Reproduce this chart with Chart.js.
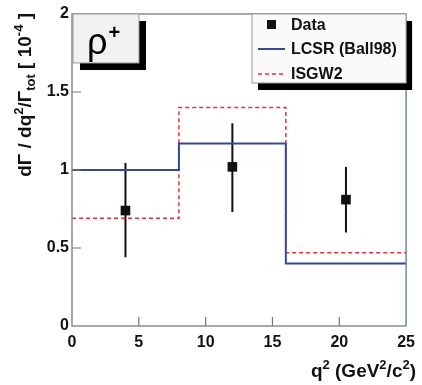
<!DOCTYPE html>
<html>
<head>
<meta charset="utf-8">
<script src="https://cdn.jsdelivr.net/npm/chart.js@4"></script>
<style>
  html, body { margin: 0; padding: 0; background: #fff; }
  #wrap { width: 422px; height: 385px; }
</style>
</head>
<body>
<div id="wrap"><canvas id="rhoChart" width="422" height="385"></canvas></div>
<script>
// q2 bins and model predictions (units of 10^-4)
var binEdges = [0, 8, 16, 25];
var lcsr = [1.00, 1.17, 0.40];
var isgw2 = [0.69, 1.40, 0.47];

// measured points with errors
var dataQ2 = [4.0, 12.0, 20.5];
var dataVal = [0.74, 1.02, 0.81];
var dataLo = [0.44, 0.73, 0.60];
var dataHi = [1.045, 1.30, 1.02];

var legendLabels = ["Data", "LCSR (Ball98)", "ISGW2"];
var boxLabel = "\u03c1";

var BLUE = '#34489a';
var RED = '#e2323c';
var FONT = '"Liberation Sans", Arial, sans-serif';

function stepPoints(vals) {
  var pts = [];
  for (var i = 0; i < vals.length; i++) pts.push({x: binEdges[i], y: vals[i]});
  pts.push({x: binEdges[binEdges.length - 1], y: vals[vals.length - 1]});
  return pts;
}

var errPts = [];
for (var i = 0; i < dataQ2.length; i++) {
  errPts.push({x: dataQ2[i], y: dataLo[i]});
  errPts.push({x: dataQ2[i], y: dataHi[i]});
  errPts.push({x: dataQ2[i], y: null});
}
var markPts = dataQ2.map(function (q, i) { return {x: q, y: dataVal[i]}; });

// frame, inward ticks, label boxes and axis titles
var decor = {
  id: 'decor',
  afterDatasetsDraw: function (chart) {
    var ctx = chart.ctx, a = chart.chartArea;
    var xs = chart.scales.x, ys = chart.scales.y;
    ctx.save();
    // frame
    ctx.lineWidth = 1.5;
    ctx.strokeStyle = '#8a8a8a';
    ctx.beginPath();
    ctx.moveTo(a.right, a.top); ctx.lineTo(a.left, a.top);
    ctx.lineTo(a.left, a.bottom); ctx.lineTo(a.right, a.bottom);
    ctx.stroke();
    ctx.strokeStyle = '#6f86ad';
    ctx.beginPath();
    ctx.moveTo(a.right, a.top); ctx.lineTo(a.right, a.bottom);
    ctx.stroke();
    // inward ticks
    ctx.strokeStyle = '#777';
    ctx.lineWidth = 1.2;
    ctx.beginPath();
    xs.ticks.forEach(function (t) {
      if (t.value <= xs.min || t.value >= xs.max) return;
      var px = xs.getPixelForValue(t.value);
      ctx.moveTo(px, a.bottom); ctx.lineTo(px, a.bottom - 9);
    });
    ys.ticks.forEach(function (t) {
      if (t.value <= ys.min || t.value >= ys.max) return;
      var py = ys.getPixelForValue(t.value);
      ctx.moveTo(a.left, py); ctx.lineTo(a.left + 9, py);
    });
    ctx.stroke();

    // rho+ box
    var bx = a.left + 1, by = a.top, bw = 66, bh = 49;
    ctx.fillStyle = '#000';
    ctx.fillRect(bx + 7, by + 7, bw, bh);
    ctx.fillStyle = '#f1f1f1';
    ctx.fillRect(bx, by, bw, bh);
    ctx.strokeStyle = '#999';
    ctx.lineWidth = 1;
    ctx.strokeRect(bx, by, bw, bh);
    ctx.fillStyle = '#000';
    ctx.textBaseline = 'alphabetic';
    ctx.textAlign = 'left';
    ctx.font = '36px ' + FONT;
    ctx.fillText(boxLabel, bx + 14, by + 40);
    var rw = ctx.measureText(boxLabel).width;
    ctx.font = 'bold 20px ' + FONT;
    ctx.fillText('+', bx + 14 + rw + 1, by + 25);

    // legend box
    var lx = 252, ly = a.top, lw = a.right - lx, lh = 69;
    ctx.fillStyle = '#000';
    ctx.fillRect(lx + 6, ly + 7, lw, lh);
    ctx.fillStyle = '#fafafa';
    ctx.fillRect(lx, ly, lw, lh);
    ctx.strokeStyle = '#999';
    ctx.strokeRect(lx, ly, lw, lh);
    var rows = [ly + 11, ly + 35, ly + 60];
    ctx.fillStyle = '#111';
    ctx.fillRect(267, rows[0] - 5, 9, 9);
    ctx.lineWidth = 2;
    ctx.strokeStyle = BLUE;
    ctx.beginPath(); ctx.moveTo(258, rows[1]); ctx.lineTo(285, rows[1]); ctx.stroke();
    ctx.lineWidth = 1.5;
    ctx.strokeStyle = RED;
    ctx.setLineDash([4, 3]);
    ctx.beginPath(); ctx.moveTo(258, rows[2]); ctx.lineTo(285, rows[2]); ctx.stroke();
    ctx.setLineDash([]);
    ctx.fillStyle = '#111';
    ctx.font = 'bold 16px ' + FONT;
    ctx.textBaseline = 'middle';
    legendLabels.forEach(function (s, k) { ctx.fillText(s, 291, rows[k] + 1); });

    // x title: q^2 (GeV^2/c^2), right aligned
    var parts = [['q', 0], ['2', 1], [' (GeV', 0], ['2', 1], ['/c', 0], ['2', 1], [')', 0]];
    drawRich(ctx, parts, 19, function (w) { return [416 - w, 377]; });

    // y title rotated
    var yparts = [['d\u0393 / dq', 0], ['2', 1], ['/\u0393', 0], ['tot', -1], [' [ 10', 0], ['-4', 1], [' ]', 0]];
    ctx.save();
    ctx.translate(31, 0);
    ctx.rotate(-Math.PI / 2);
    drawRich(ctx, yparts, 19, function (w) { return [-13 - w, 0]; });
    ctx.restore();
    ctx.restore();
  }
};

function drawRich(ctx, parts, size, place) {
  var small = Math.round(size * 0.66);
  var widths = parts.map(function (p) {
    ctx.font = 'bold ' + (p[1] === 0 ? size : small) + 'px ' + FONT;
    return ctx.measureText(p[0]).width;
  });
  var total = widths.reduce(function (s, w) { return s + w; }, 0);
  var pos = place(total);
  var x = pos[0], y = pos[1];
  ctx.fillStyle = '#111';
  ctx.textAlign = 'left';
  ctx.textBaseline = 'alphabetic';
  parts.forEach(function (p, k) {
    ctx.font = 'bold ' + (p[1] === 0 ? size : small) + 'px ' + FONT;
    var dy = p[1] === 1 ? -size * 0.42 : (p[1] === -1 ? size * 0.22 : 0);
    ctx.fillText(p[0], x, y + dy);
    x += widths[k];
  });
}

var ctxR = document.getElementById("rhoChart").getContext('2d');
var rhoChart = new Chart(ctxR, {
  type: 'line',
  data: {
    datasets: [
      {
        label: legendLabels[1],
        data: stepPoints(lcsr),
        stepped: 'before',
        borderColor: BLUE,
        borderWidth: 2,
        pointRadius: 0,
        fill: false
      },
      {
        label: legendLabels[2],
        data: stepPoints(isgw2),
        stepped: 'before',
        borderColor: RED,
        borderWidth: 1.5,
        borderDash: [4, 3],
        pointRadius: 0,
        fill: false
      },
      {
        label: 'errors',
        data: errPts,
        borderColor: '#111',
        borderWidth: 2,
        pointRadius: 0,
        spanGaps: false
      },
      {
        label: legendLabels[0],
        data: markPts,
        showLine: false,
        pointStyle: 'rect',
        pointRadius: 6.8,
        pointBackgroundColor: '#111',
        pointBorderColor: '#111',
        pointBorderWidth: 0
      }
    ]
  },
  options: {
    responsive: false,
    animation: false,
    layout: { padding: { left: 0, top: 14, right: 12, bottom: 0 } },
    plugins: { legend: { display: false }, tooltip: { enabled: false } },
    scales: {
      x: {
        type: 'linear',
        min: 0, max: 25,
        grid: { display: false, drawTicks: false },
        border: { display: false },
        ticks: { stepSize: 5, padding: 7, color: '#111', font: { family: FONT, size: 16, weight: 'bold' } },
        afterFit: function (s) { s.height = 59; }
      },
      y: {
        min: 0, max: 2,
        grid: { display: false, drawTicks: false },
        border: { display: false },
        ticks: {
          stepSize: 0.5, padding: 3, color: '#111',
          font: { family: FONT, size: 16, weight: 'bold' },
          callback: function (v) { return String(Math.round(v * 10) / 10); }
        },
        afterFit: function (s) { s.width = 72; }
      }
    }
  },
  plugins: [decor]
});
</script>
</body>
</html>
